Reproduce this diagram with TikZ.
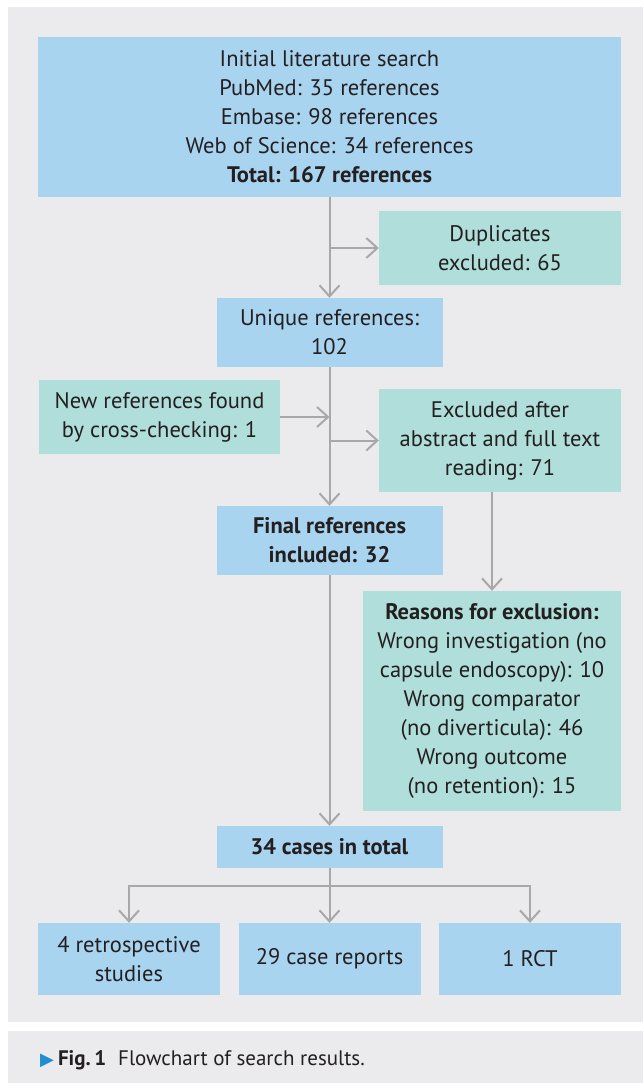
\documentclass[tikz,border=0pt]{standalone}
\usepackage{fontspec}
\setmainfont{PT Sans}
\newfontfamily\symfont{DejaVu Sans}
\usetikzlibrary{arrows.meta}
\definecolor{bgc}{HTML}{EBEBED}
\definecolor{blueb}{HTML}{A9D4EF}
\definecolor{tealb}{HTML}{B0DEDA}
\definecolor{arrc}{HTML}{A8A8A8}
\definecolor{textc}{HTML}{231F20}
\definecolor{capblue}{HTML}{1F8FD0}
\begin{document}
\begin{tikzpicture}[x=1pt,y=-1pt,
  box/.style={rectangle, inner sep=0pt, align=center, font=\fontsize{22.5}{29}\selectfont, text=textc},
  bluebox/.style={box, fill=blueb},
  tealbox/.style={box, fill=tealb},
  arr/.style={draw=arrc, line width=2pt, -{Straight Barb[length=11pt,width=20pt]}},
  ln/.style={draw=arrc, line width=2pt}
]
\useasboundingbox (0,0) rectangle (643,1083);
\fill[bgc] (8,7) rectangle (643,1022);
\fill[bgc] (8,1031) rectangle (643,1083);

\node[bluebox, minimum width=583pt, minimum height=160pt] (top) at (329.5,117)
  {Initial literature search\\PubMed: 35 references\\Embase: 98 references\\Web of Science: 34 references\\\textbf{Total: 167 references}};
\node[tealbox, minimum width=242pt, minimum height=74pt] (dup) at (500,248)
  {Duplicates\\excluded: 65};
\node[bluebox, minimum width=226pt, minimum height=69pt] (uniq) at (329.5,332.5)
  {Unique references:\\102};
\node[tealbox, minimum width=241pt, minimum height=74pt] (newref) at (159.5,417)
  {New references found\\by cross-checking: 1};
\node[tealbox, minimum width=242pt, minimum height=103pt] (excl) at (500,440.5)
  {Excluded after\\abstract and full text\\reading: 71};
\node[bluebox, minimum width=226pt, minimum height=69pt] (final) at (329.5,540.5)
  {\textbf{Final references}\\\textbf{included: 32}};
\node[tealbox, minimum width=258pt, minimum height=220pt] (reasons) at (492,701)
  {\textbf{Reasons for exclusion:}\\Wrong investigation (no\\capsule endoscopy): 10\\Wrong comparator\\(no diverticula): 46\\Wrong outcome\\(no retention): 15};
\node[bluebox, minimum width=226pt, minimum height=42pt] (total) at (329.5,847)
  {\textbf{34 cases in total}};
\node[bluebox, minimum width=182pt, minimum height=72pt] (b1) at (129,959)
  {4 retrospective\\studies};
\node[bluebox, minimum width=182pt, minimum height=72pt] (b2) at (329.5,959)
  {29 case reports};
\node[bluebox, minimum width=182pt, minimum height=72pt] (b3) at (530,959)
  {1 RCT};

\draw[arr] (top.south) -- (uniq.north);
\draw[arr] (top.south |- dup.west) -- (dup.west);
\draw[arr] (uniq.south) -- (final.north);
\draw[arr] (newref.east) -- (uniq.south |- newref.east);
\draw[arr] (uniq.south |- excl.west) -- (excl.west);
\draw[arr] (reasons.north |- excl.south) -- (reasons.north);
\draw[arr] (final.south) -- (total.north);
\coordinate (split) at (329.5,886);
\draw[arr] (total.south) -- (b2.north);
\draw[arr] (split) -| (b1.north);
\draw[arr] (split) -| (b3.north);

\node[anchor=west, inner sep=0pt, text=textc, font=\fontsize{21}{24}\selectfont] (cap) at (40,1060)
  {{\color{capblue}\symfont\fontsize{18}{18}\selectfont ▶}\hspace{4pt}\textbf{Fig.\,1}\hspace{12pt}Flowchart of search results.};
\end{tikzpicture}
\end{document}
